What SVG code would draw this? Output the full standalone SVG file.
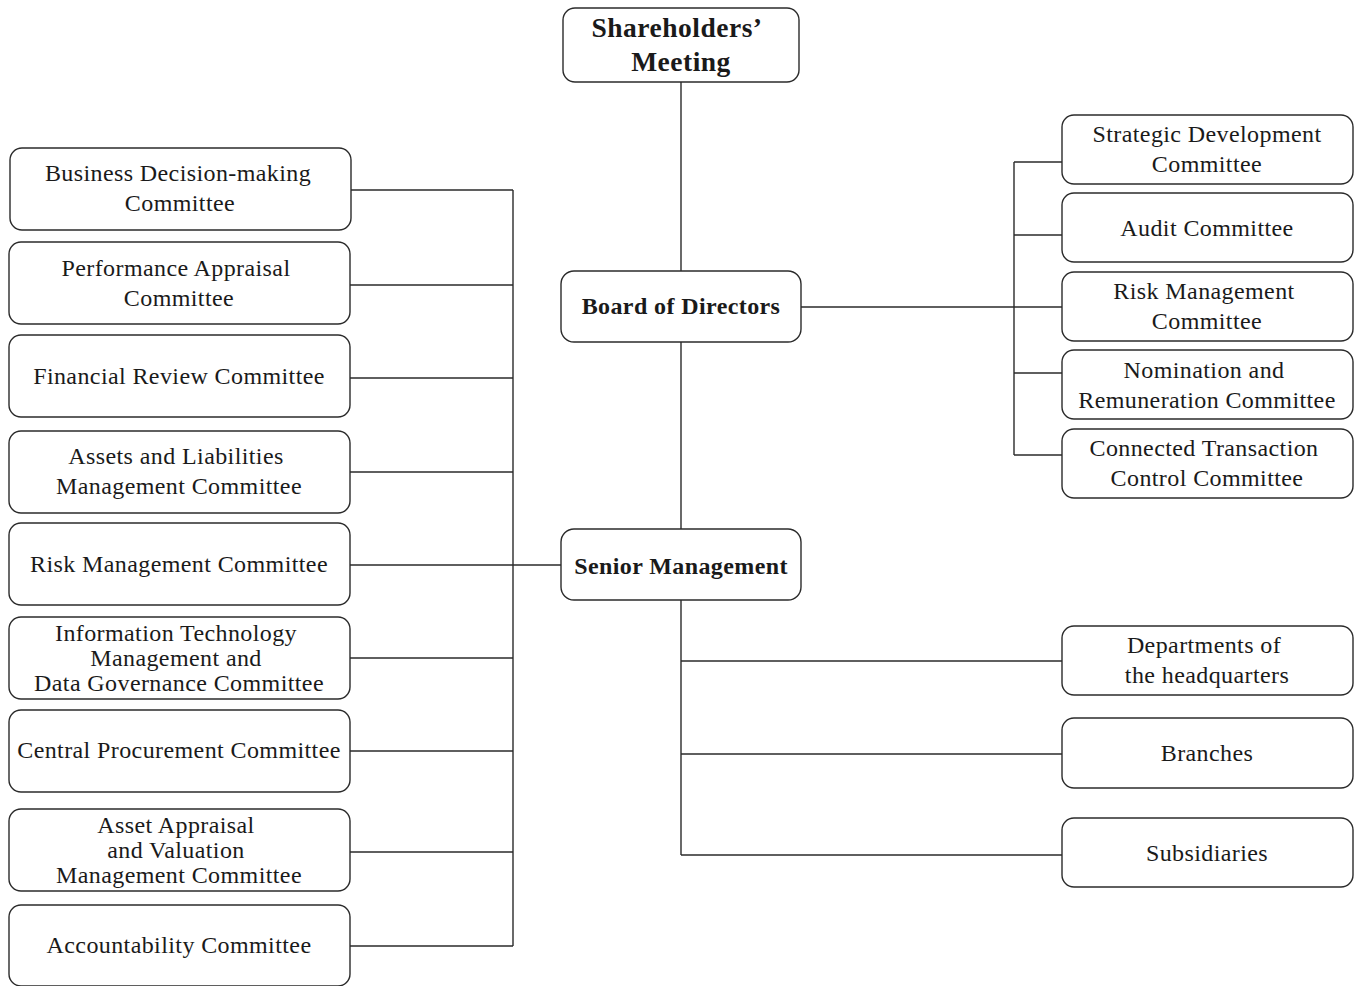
<svg xmlns="http://www.w3.org/2000/svg" width="1359" height="986" viewBox="0 0 1359 986">
<style>
.box{fill:#fff;stroke:#2b2b2b;stroke-width:1.4}
.t{font-family:"Liberation Serif","Times New Roman",serif;font-size:24px;letter-spacing:0.4px;fill:#1a1a1a;text-anchor:middle}
.b{font-weight:bold}
.s{font-size:27.5px;letter-spacing:0.5px}
.c{fill:none;stroke:#2b2b2b;stroke-width:1.4}
</style>
<rect width="1359" height="986" fill="#fff"/>
<g id="connectors" class="c">
<path d="M681 82V271M681 342V529M681 600V855"/>
<path d="M801 307H1062M1014 162V455M1014 162H1062M1014 235H1062M1014 373H1062M1014 455H1062"/>
<path d="M681 661H1062M681 754H1062M681 855H1062"/>
<path d="M350 565H561M513 190V946M351 190H513M350 285H513M350 378H513M350 472H513M350 658H513M350 751H513M350 852H513M350 946H513"/>
</g>
<g id="shareholders"><rect class="box" x="563" y="8" width="236" height="74" rx="12"/><text class="t b s" x="677" y="37">Shareholders’</text><text class="t b s" x="681" y="71">Meeting</text></g>
<g id="board"><rect class="box" x="561" y="271" width="240" height="71" rx="13"/><text class="t b" x="681" y="314">Board of Directors</text></g>
<g id="senior"><rect class="box" x="561" y="529" width="240" height="71" rx="13"/><text class="t b" x="681" y="574">Senior Management</text></g>

<g id="l1"><rect class="box" x="10" y="148" width="341" height="82" rx="12"/><text class="t" x="178" y="181">Business Decision-making</text><text class="t" x="180" y="211">Committee</text></g>
<g id="l2"><rect class="box" x="9" y="242" width="341" height="82" rx="12"/><text class="t" x="176" y="276">Performance Appraisal</text><text class="t" x="179" y="306">Committee</text></g>
<g id="l3"><rect class="box" x="9" y="335" width="341" height="82" rx="12"/><text class="t" x="179" y="384">Financial Review Committee</text></g>
<g id="l4"><rect class="box" x="9" y="431" width="341" height="82" rx="12"/><text class="t" x="176" y="464">Assets and Liabilities</text><text class="t" x="179" y="494">Management Committee</text></g>
<g id="l5"><rect class="box" x="9" y="523" width="341" height="82" rx="12"/><text class="t" x="179" y="572">Risk Management Committee</text></g>
<g id="l6"><rect class="box" x="9" y="617" width="341" height="82" rx="12"/><text class="t" x="176" y="641">Information Technology</text><text class="t" x="176" y="666">Management and</text><text class="t" x="179" y="691">Data Governance Committee</text></g>
<g id="l7"><rect class="box" x="9" y="710" width="341" height="82" rx="12"/><text class="t" x="179" y="758">Central Procurement Committee</text></g>
<g id="l8"><rect class="box" x="9" y="809" width="341" height="82" rx="12"/><text class="t" x="176" y="833">Asset Appraisal</text><text class="t" x="176" y="858">and Valuation</text><text class="t" x="179" y="883">Management Committee</text></g>
<g id="l9"><rect class="box" x="9" y="905" width="341" height="81" rx="12"/><text class="t" x="179" y="953">Accountability Committee</text></g>

<g id="r1"><rect class="box" x="1062" y="115" width="291" height="69" rx="12"/><text class="t" x="1207" y="142">Strategic Development</text><text class="t" x="1207" y="172">Committee</text></g>
<g id="r2"><rect class="box" x="1062" y="193" width="291" height="69" rx="12"/><text class="t" x="1207" y="236">Audit Committee</text></g>
<g id="r3"><rect class="box" x="1062" y="272" width="291" height="69" rx="12"/><text class="t" x="1204" y="299">Risk Management</text><text class="t" x="1207" y="329">Committee</text></g>
<g id="r4"><rect class="box" x="1062" y="350" width="291" height="69" rx="12"/><text class="t" x="1204" y="378">Nomination and</text><text class="t" x="1207" y="408">Remuneration Committee</text></g>
<g id="r5"><rect class="box" x="1062" y="429" width="291" height="69" rx="12"/><text class="t" x="1204" y="456">Connected Transaction</text><text class="t" x="1207" y="486">Control Committee</text></g>

<g id="r6"><rect class="box" x="1062" y="626" width="291" height="69" rx="12"/><text class="t" x="1204" y="653">Departments of</text><text class="t" x="1207" y="683">the headquarters</text></g>
<g id="r7"><rect class="box" x="1062" y="718" width="291" height="70" rx="12"/><text class="t" x="1207" y="761">Branches</text></g>
<g id="r8"><rect class="box" x="1062" y="818" width="291" height="69" rx="12"/><text class="t" x="1207" y="861">Subsidiaries</text></g>
</svg>
